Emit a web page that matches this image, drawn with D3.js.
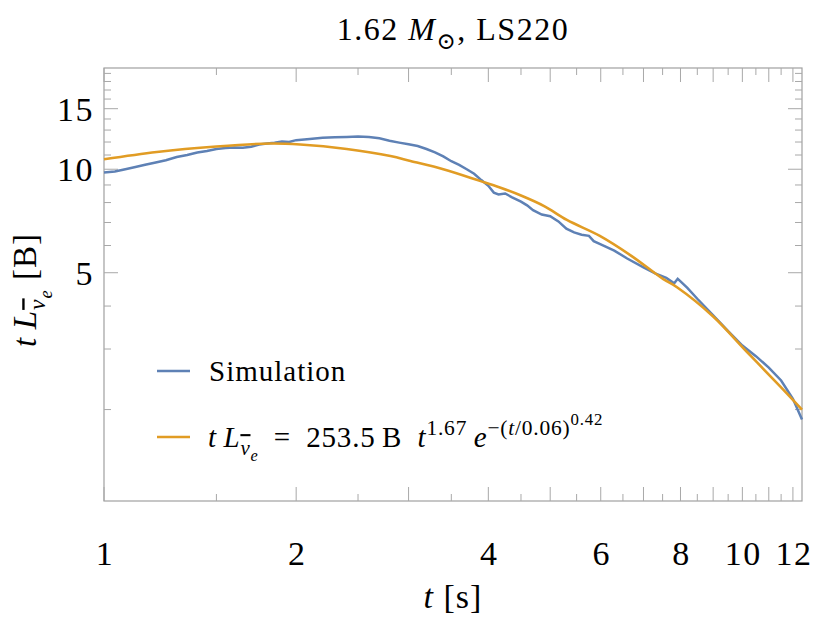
<!DOCTYPE html>
<html lang="en">
  <head>
    <meta charset="UTF-8">
    <title>1.62 Msun, LS220</title>
    <style>
    * { box-sizing: border-box; margin: 0; padding: 0; }
    body { background: #fff; }
    svg { display: block; }
    text { font-family: "Liberation Serif", "DejaVu Serif", serif; fill: #000; white-space: pre; }
    .frame { fill: none; stroke: #a0a0a0; stroke-width: 1.2px; }
    .tick { stroke: #a8a8a8; stroke-width: 1px; }
    .sim { fill: none; stroke: #5e81b5; stroke-width: 2.5px; }
    .fit { fill: none; stroke: #e19c24; stroke-width: 2.6px; }
    .num { font-size: 34px; letter-spacing: 1.5px; }
    </style>
  </head>
  <body>
    <svg width="814" height="619"></svg>
    <script src="https://d3js.org/d3.v7.min.js"></script>
    <script>
      // simulation curve
      const simT = [1.00, 1.04, 1.08, 1.12, 1.16, 1.20, 1.25, 1.30, 1.35, 1.40, 1.45, 1.50,
        1.55, 1.60, 1.65, 1.70, 1.75, 1.80, 1.85, 1.90, 1.95, 2.00, 2.10, 2.20, 2.30, 2.40,
        2.50, 2.60, 2.70, 2.80, 2.90, 3.00, 3.10, 3.20, 3.30, 3.40, 3.50, 3.60, 3.70, 3.80,
        3.90, 4.00, 4.08, 4.15, 4.25, 4.35, 4.50, 4.60, 4.70, 4.85, 5.00, 5.15, 5.30, 5.45,
        5.60, 5.75, 5.85, 6.00, 6.30, 6.60, 7.00, 7.30, 7.60, 7.82, 7.92, 8.00, 8.20, 8.50,
        9.00, 9.50, 10.00, 10.50, 11.00, 11.50, 12.00, 12.40];
      const simL = [9.78, 9.85, 10.0, 10.15, 10.3, 10.45, 10.62, 10.85, 11.0, 11.18, 11.3, 11.45,
        11.52, 11.56, 11.55, 11.62, 11.8, 11.88, 11.95, 12.05, 12.0, 12.15, 12.25, 12.35, 12.38, 12.42,
        12.45, 12.4, 12.3, 12.1, 11.95, 11.82, 11.68, 11.45, 11.2, 10.9, 10.55, 10.3, 10.0, 9.7,
        9.3, 8.95, 8.55, 8.45, 8.5, 8.3, 8.05, 7.85, 7.6, 7.38, 7.3, 7.05, 6.72, 6.55,
        6.45, 6.4, 6.18, 6.05, 5.8, 5.5, 5.18, 4.98, 4.83, 4.66, 4.8, 4.72, 4.52, 4.2,
        3.76, 3.38, 3.07, 2.86, 2.65, 2.43, 2.15, 1.87];

      // fitted curve
      const fitT = [1.0, 1.21, 1.5, 1.82, 2.03, 2.4, 2.81, 3.02, 3.4, 3.88, 4.17, 4.49, 4.9,
        5.31, 5.98, 6.7, 7.52, 7.91, 9.0, 10.17, 11.45, 12.4];
      const fitL = [10.69, 11.23, 11.65, 11.88, 11.8, 11.45, 10.93, 10.57, 10.0, 9.25, 8.85, 8.40, 7.8,
        7.12, 6.40, 5.6, 4.79, 4.53, 3.73, 2.94, 2.34, 2.0];

      const xMajor = [1, 2, 3, 4, 5, 6, 7, 8, 9, 10, 11, 12];
      const xMinor = [1.5, 2.5, 3.5, 4.5, 5.5, 6.5, 7.5, 8.5, 9.5, 10.5, 11.5];
      const xLabels = [1, 2, 4, 6, 8, 10, 12];
      const yMajor = [5, 10, 15];
      const yMinor = [2, 3, 4, 6, 7, 8, 9, 11, 12, 13, 14, 16, 17, 18, 19];

      const margin = { top: 68, right: 12, bottom: 118, left: 104 };
      const width = 814 - margin.left - margin.right;
      const height = 619 - margin.top - margin.bottom;

      const svg = d3.select("svg");
      const g = svg.append("g").attr("transform", `translate(${margin.left},${margin.top})`);

      const x = d3.scaleLog().domain([1, 12.4]).range([0, width]);
      const y = d3.scaleLog().domain([1.084, 19.7]).range([height, 0]);

      // rich text helper: lv 0 normal, 1 sup, 2 supsup, -1 sub, -2 subsub
      const lvShift = { 0: 0, 1: -0.42, 2: -0.75, "-1": 0.28, "-2": 0.48 };
      const lvSize = { 0: 1, 1: 0.74, 2: 0.58, "-1": 0.72, "-2": 0.56 };
      function rich(sel, parts, size) {
        let prev = 0;
        parts.forEach(p => {
          const lv = p.lv || 0;
          const off = lvShift[lv] * size;
          sel.append("tspan")
            .attr("dy", off - prev)
            .style("font-size", (lvSize[lv] * size) + "px")
            .style("font-style", p.it ? "italic" : "normal")
            .style("text-decoration", p.bar ? "overline" : null)
            .text(p.s);
          prev = off;
        });
      }

      // frame
      g.append("rect").attr("class", "frame")
        .attr("width", width).attr("height", height);

      // x ticks, bottom and top
      function xTicks(vals, len) {
        vals.forEach(v => {
          g.append("line").attr("class", "tick")
            .attr("x1", x(v)).attr("x2", x(v)).attr("y1", height).attr("y2", height - len);
          g.append("line").attr("class", "tick")
            .attr("x1", x(v)).attr("x2", x(v)).attr("y1", 0).attr("y2", len);
        });
      }
      xTicks(xMajor, 14);
      xTicks(xMinor, 7);

      function yTicks(vals, len) {
        vals.forEach(v => {
          g.append("line").attr("class", "tick")
            .attr("x1", 0).attr("x2", len).attr("y1", y(v)).attr("y2", y(v));
          g.append("line").attr("class", "tick")
            .attr("x1", width).attr("x2", width - len).attr("y1", y(v)).attr("y2", y(v));
        });
      }
      yTicks(yMajor, 14);
      yTicks(yMinor, 7);

      g.selectAll(".xlab").data(xLabels).enter().append("text")
        .attr("class", "xlab num")
        .attr("x", d => x(d) + 1).attr("y", height + 64)
        .attr("text-anchor", "middle")
        .text(d => d);

      g.selectAll(".ylab").data(yMajor).enter().append("text")
        .attr("class", "ylab num")
        .attr("x", -10).attr("y", d => y(d) + 12)
        .attr("text-anchor", "end")
        .text(d => d);

      // curves
      const line = d3.line()
        .x(d => x(d[0]))
        .y(d => y(d[1]));

      g.append("path").attr("class", "sim")
        .attr("d", line(simT.map((t, i) => [t, simL[i]])));

      g.append("path").attr("class", "fit")
        .attr("d", line.curve(d3.curveCatmullRom)(fitT.map((t, i) => [t, fitL[i]])));

      // legend
      const leg = g.append("g").attr("transform", "translate(53,303)");
      leg.append("line").attr("class", "sim").attr("x1", 0).attr("x2", 33).attr("y1", 0).attr("y2", 0);
      leg.append("text").attr("x", 52).attr("y", 10)
        .style("font-size", "29px").style("letter-spacing", "1px").text("Simulation");
      leg.append("line").attr("class", "fit").attr("x1", 0).attr("x2", 33).attr("y1", 66).attr("y2", 66);
      const lt = leg.append("text").attr("x", 51).attr("y", 76).style("letter-spacing", "0.8px");
      rich(lt, [
        { s: "t", it: true }, { s: "\u2009" }, { s: "L", it: true },
        { s: "\u03bd", it: true, lv: -1, bar: true }, { s: "e", it: true, lv: -2 },
        { s: "\u2002=\u2002253.5\u2009B\u2002" }, { s: "t", it: true }, { s: "1.67", lv: 1 },
        { s: "\u2009" }, { s: "e", it: true }, { s: "\u2212(", lv: 1 }, { s: "t", it: true, lv: 1 },
        { s: "/0.06)", lv: 1 }, { s: "0.42", lv: 2 }
      ], 29);

      // title
      const title = svg.append("text")
        .attr("x", margin.left + width / 2).attr("y", 40)
        .attr("text-anchor", "middle")
        .style("font-size", "32px").style("letter-spacing", "1.5px");
      rich(title, [
        { s: "1.62 " }, { s: "M", it: true }, { s: "\u2299", lv: -1 }, { s: ", LS220" }
      ], 32);

      // axis labels
      const xl = svg.append("text")
        .attr("x", margin.left + width / 2).attr("y", 608)
        .attr("text-anchor", "middle")
        .style("font-size", "34px").style("letter-spacing", "1px");
      rich(xl, [{ s: "t", it: true }, { s: " [s]" }], 34);

      const yl = svg.append("text")
        .attr("transform", "translate(36,290) rotate(-90)")
        .attr("text-anchor", "middle")
        .style("font-size", "33px").style("letter-spacing", "1px");
      rich(yl, [
        { s: "t", it: true }, { s: "\u2009" }, { s: "L", it: true },
        { s: "\u03bd", it: true, lv: -1, bar: true }, { s: "e", it: true, lv: -2 }, { s: " [B]" }
      ], 33);
    </script>
  </body>
</html>
